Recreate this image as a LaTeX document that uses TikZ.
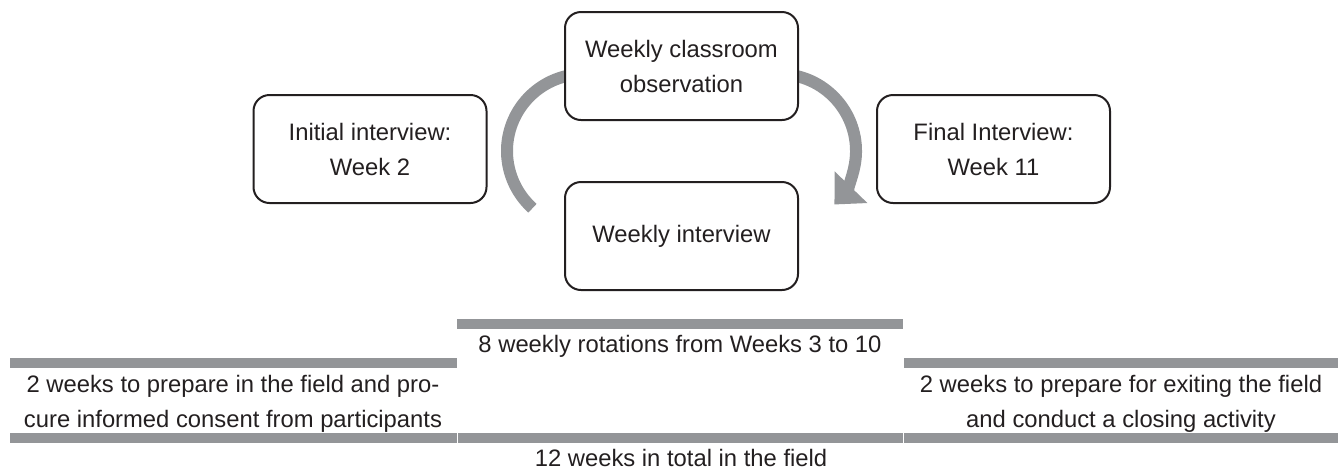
\documentclass[tikz,border=0pt]{standalone}
\usepackage{fontspec}
\setmainfont{Liberation Sans}
\usepackage{tikz}
\usetikzlibrary{arrows.meta, positioning}
\definecolor{barGray}{RGB}{147,149,152}
\definecolor{inkGray}{RGB}{35,31,32}

\begin{document}
\begin{tikzpicture}[
        x=0.5pt, y=-0.5pt,
        every node/.style={
            text=inkGray,
            font=\fontsize{11.9pt}{17.5pt}\selectfont
        },
        stagebox/.style={
            rectangle,
            draw=inkGray,
            line width=1pt,
            fill=white,
            rounded corners=8pt,
            minimum width=116.5pt,
            minimum height=54pt,
            align=center
        },
        loop/.style={
            draw=barGray,
            line width=6pt
        },
        bar/.style={
            fill=barGray
        }
    ]

    \useasboundingbox (0,0) rectangle (1338,468);

    % Centres of the two loop arcs
    \coordinate (lc) at (584,151);
    \coordinate (rc) at (779,151);

    % Loop arcs
    \draw[loop] ([shift={(100:38.5pt)}]lc) arc[start angle=100, end angle=228, radius=38.5pt];
    \draw[loop, -{Triangle[width=22pt, length=12pt]}] ([shift={(80:38.5pt)}]rc) arc[start angle=80, end angle=-44, radius=38.5pt];

    % Boxes
    \node[stagebox] (obs) at (681.5,66) {Weekly classroom\\observation};
    \node[stagebox, below=30pt of obs] (wint) {Weekly interview};
    \node[stagebox] (init) at (370,149) {Initial interview:\\Week 2};
    \node[stagebox] (final) at (993.5,149) {Final Interview:\\Week 11};

    % Time bars
    \fill[bar] (457,319) rectangle (903,329);
    \fill[bar] (10,358) rectangle (457,368);
    \fill[bar] (903.5,358) rectangle (1338,368);
    \fill[bar] (10,433) rectangle (456.5,443);
    \fill[bar] (457.5,433) rectangle (902.5,443);
    \fill[bar] (903.5,433) rectangle (1338,443);

    % Bar labels
    \node[anchor=base] (rot) at (680,352) {8 weekly rotations from Weeks 3 to 10};
    \node[align=center] (prep) at (233,404) {2 weeks to prepare in the field and pro-\\cure informed consent from participants};
    \node[align=center] (exit) at (1121,404) {2 weeks to prepare for exiting the field\\and conduct a closing activity};
    \node[anchor=base] (total) at (681,466) {12 weeks in total in the field};

\end{tikzpicture}
\end{document}
